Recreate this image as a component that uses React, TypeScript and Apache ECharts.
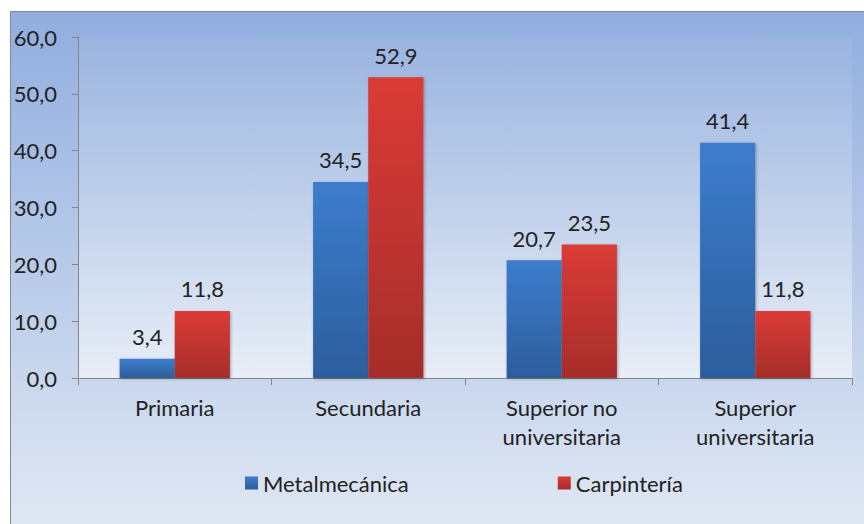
import React, { useEffect, useRef } from "react";
import * as echarts from "echarts";

const categories = ["Primaria", "Secundaria", "Superior no\nuniversitaria", "Superior\nuniversitaria"];
const metalmecanica = [3.4, 34.5, 20.7, 41.4];
const carpinteria = [11.8, 52.9, 23.5, 11.8];
const seriesNames = ["Metalmecánica", "Carpintería"];

const FONT = "Lato, 'Open Sans', sans-serif";
const fmt = (v: number) => v.toFixed(1).replace(".", ",");

export default function App() {
  const ref = useRef<HTMLDivElement>(null);
  useEffect(() => {
    if (!ref.current) return;
    const chart = echarts.init(ref.current, undefined, { renderer: "svg" });
    const grad = (top: string, bottom: string) =>
      new echarts.graphic.LinearGradient(0, 0, 0, 1, [
        { offset: 0, color: top },
        { offset: 1, color: bottom },
      ]);
    const labelStyle = {
      show: true,
      position: "top" as const,
      distance: 11,
      fontFamily: FONT,
      fontSize: 22,
      color: "#222",
      formatter: (p: any) => fmt(p.value),
    };
    chart.setOption({
      animation: false,
      graphic: [
        {
          type: "rect",
          z: -10,
          silent: true,
          shape: { x: 10.5, y: 11.5, width: 870, height: 530 },
          style: { fill: grad("#91aedf", "#e2e9f4"), stroke: "#7f8898", lineWidth: 1 },
        },
      ],
      grid: {
        left: 78,
        right: 12,
        top: 37,
        bottom: 146,
        show: true,
        borderWidth: 0,
        backgroundColor: grad("#9ab4e0", "#e8eef7"),
      },
      legend: {
        left: 245,
        top: 472,
        padding: 0,
        icon: "rect",
        itemWidth: 13,
        itemHeight: 13,
        itemGap: 149,
        textStyle: { fontFamily: FONT, fontSize: 22, color: "#222" },
        data: seriesNames,
      },
      xAxis: {
        type: "category",
        data: categories,
        axisLine: { lineStyle: { color: "#868686", width: 1 } },
        axisTick: { show: true, length: 7, lineStyle: { color: "#868686" } },
        axisLabel: {
          fontFamily: FONT,
          fontSize: 22,
          color: "#222",
          margin: 15,
          lineHeight: 29,
          interval: 0,
        },
      },
      yAxis: {
        type: "value",
        min: 0,
        max: 60,
        interval: 10,
        splitLine: { show: false },
        axisLine: { show: true, lineStyle: { color: "#868686", width: 1 } },
        axisTick: { show: true, length: 6, lineStyle: { color: "#868686" } },
        axisLabel: {
          fontFamily: FONT,
          fontSize: 22,
          color: "#222",
          margin: 21,
          formatter: (v: number) => fmt(v),
        },
      },
      series: [
        {
          name: seriesNames[0],
          type: "bar",
          data: metalmecanica,
          barGap: "0%",
          barCategoryGap: "43%",
          itemStyle: {
            color: grad("#3d7dcd", "#2c5d9c"),
            shadowColor: "rgba(0,0,0,0.3)",
            shadowBlur: 3,
            shadowOffsetX: 1,
            shadowOffsetY: 1,
          },
          label: labelStyle,
        },
        {
          name: seriesNames[1],
          type: "bar",
          data: carpinteria,
          itemStyle: {
            color: grad("#db3b36", "#a52d2a"),
            shadowColor: "rgba(0,0,0,0.3)",
            shadowBlur: 3,
            shadowOffsetX: 1,
            shadowOffsetY: 1,
          },
          label: labelStyle,
        },
      ],
    });
    return () => chart.dispose();
  }, []);
  return (
    <div
      ref={ref}
      style={{ position: "fixed", left: 0, top: 0, width: 864, height: 524, background: "#fff" }}
    />
  );
}
